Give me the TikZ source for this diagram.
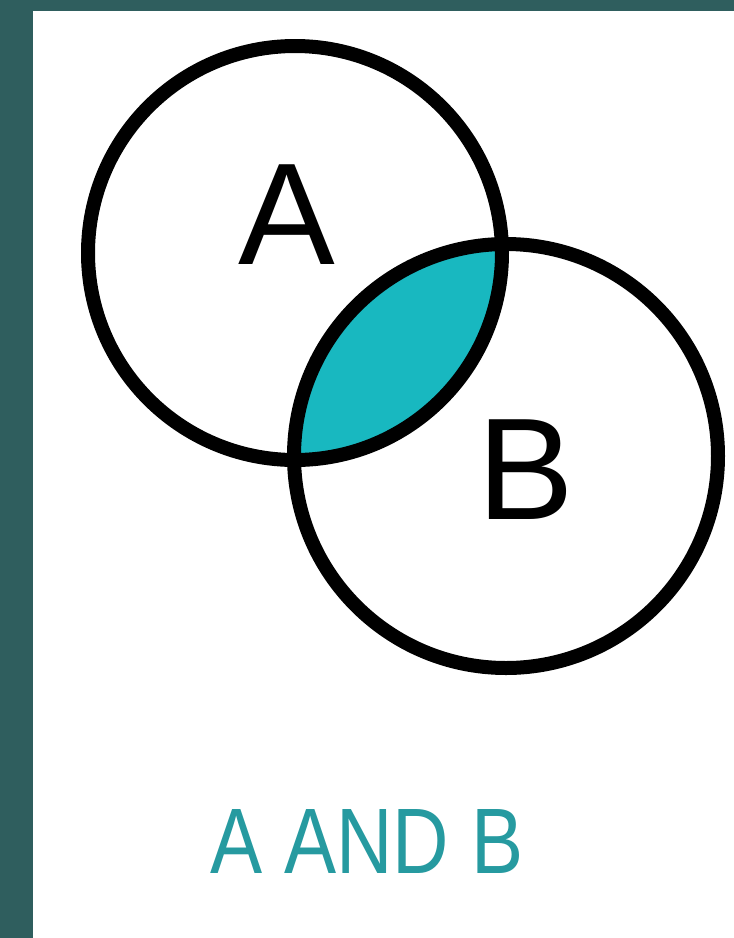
\documentclass[tikz,border=0pt]{standalone}
\usepackage{fontspec}
\setmainfont{Liberation Sans}
\definecolor{frame}{RGB}{47,94,94}
\definecolor{lens}{RGB}{24,184,192}
\definecolor{caption}{RGB}{38,154,160}
\begin{document}
\begin{tikzpicture}[x=1pt,y=-1pt,
  ring/.style={draw=black,line width=14pt},
  letter/.style={font=\fontsize{145}{150}\selectfont,text=black,inner sep=0pt},
  captiontext/.style={font=\fontsize{93}{100}\selectfont,text=caption,inner sep=0pt}]
\useasboundingbox (0,0) rectangle (734,938);
\fill[frame] (0,0) rectangle (734,938);
\fill[white] (33,11) rectangle (734,938);
\coordinate (ca) at (295,253);
\coordinate (cb) at (506,456);
\begin{scope}
  \clip (ca) circle[radius=207];
  \fill[lens] (cb) circle[radius=212];
\end{scope}
\draw[ring] (ca) circle[radius=207];
\draw[ring] (cb) circle[radius=212];
\node[letter] (la) at (287,215) {A};
\node[letter] (lb) at (526,470) {B};
\node[captiontext] (cap) at (367,841) {\scalebox{0.84}[1]{A AND B}};
\end{tikzpicture}
\end{document}
